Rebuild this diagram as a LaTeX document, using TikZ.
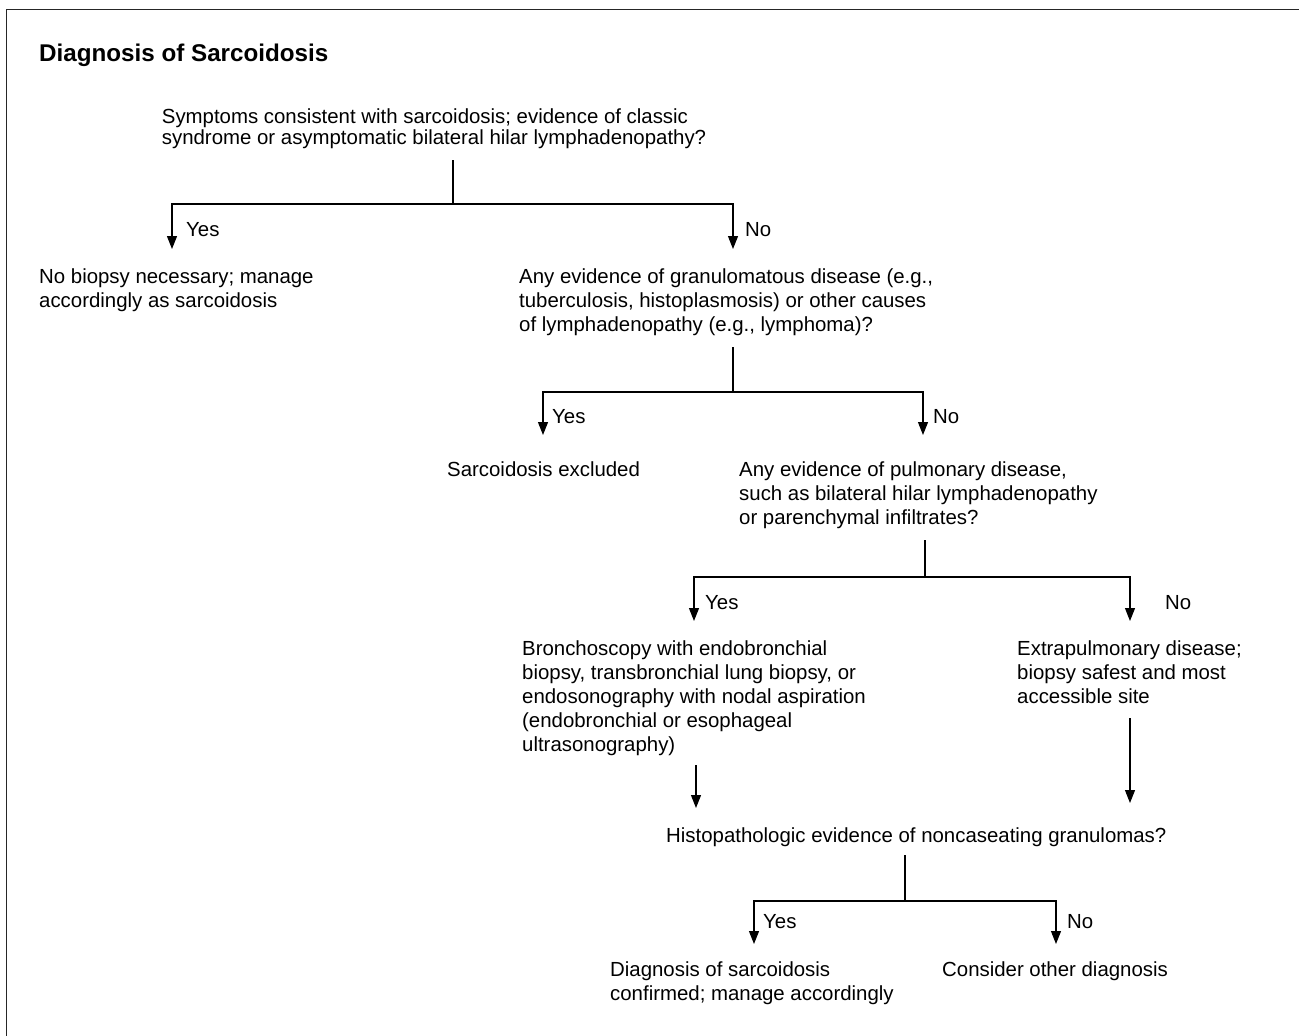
\documentclass[tikz,border=0pt]{standalone}
\usepackage{fontspec}
\setmainfont{Liberation Sans}
\usetikzlibrary{arrows.meta}
\begin{document}
\begin{tikzpicture}[x=1pt,y=-1pt,
  txt/.style={anchor=base west, inner sep=0pt, align=left, font=\fontsize{20.4}{24}\selectfont},
  tight/.style={font=\fontsize{20.4}{21}\selectfont},
  lbl/.style={anchor=base west, inner sep=0pt, font=\fontsize{20.4}{24}\selectfont},
  conn/.style={line width=1.1pt, black},
  arr/.style={conn, -{Triangle[length=13pt,width=10pt]}},
  frame/.style={line width=1.6pt, black!85}]
\useasboundingbox (0,0) rectangle (1299,1036);
% frame
\draw[frame] (6.5,1036) -- (6.5,9.5) -- (1299,9.5);
% title
\node[anchor=base west, inner sep=0pt, font=\fontsize{24.2}{29}\selectfont\bfseries] (title) at (39,61) {Diagnosis of Sarcoidosis};
% text nodes (anchor = baseline of the last line)
\node[txt, tight] (q1) at (161.7,144.3) {Symptoms consistent with sarcoidosis; evidence of classic\\syndrome or asymptomatic bilateral hilar lymphadenopathy?};
\node[txt] (nobiopsy) at (39,307.5) {No biopsy necessary; manage\\accordingly as sarcoidosis};
\node[txt] (q3) at (519,331.5) {Any evidence of granulomatous disease (e.g.,\\tuberculosis, histoplasmosis) or other causes\\of lymphadenopathy (e.g., lymphoma)?};
\node[txt] (excl) at (447,476.7) {Sarcoidosis excluded};
\node[txt] (q5) at (739,524.5) {Any evidence of pulmonary disease,\\such as bilateral hilar lymphadenopathy\\or parenchymal infiltrates?};
\node[txt] (bronch) at (522,751) {Bronchoscopy with endobronchial\\biopsy, transbronchial lung biopsy, or\\endosonography with nodal aspiration\\(endobronchial or esophageal\\ultrasonography)};
\node[txt] (extrap) at (1017,703) {Extrapulmonary disease;\\biopsy safest and most\\accessible site};
\node[txt] (hist) at (666,842) {Histopathologic evidence of noncaseating granulomas?};
\node[txt] (diag) at (610,1000.3) {Diagnosis of sarcoidosis\\confirmed; manage accordingly};
\node[txt] (consider) at (942,976.3) {Consider other diagnosis};
% labels
\node[lbl] (yes1) at (186,236) {Yes};
\node[lbl] (no1) at (745,236) {No};
\node[lbl] (yes2) at (552,423) {Yes};
\node[lbl] (no2) at (933,423) {No};
\node[lbl] (yes3) at (705,609.3) {Yes};
\node[lbl] (no3) at (1165,609.3) {No};
\node[lbl] (yes4) at (763,928) {Yes};
\node[lbl] (no4) at (1067,928) {No};
% branch coordinates
\coordinate (q1out) at (453,160);
\coordinate (s1) at (453,204);
\coordinate (t1a) at (172,249);
\coordinate (t1b) at (733,249);
\coordinate (q3out) at (733,347);
\coordinate (s2) at (733,392);
\coordinate (t2a) at (543,435);
\coordinate (t2b) at (923,435);
\coordinate (q5out) at (925,540);
\coordinate (s3) at (925,577);
\coordinate (t3a) at (694,621);
\coordinate (t3b) at (1130,621);
\coordinate (bout) at (696,765);
\coordinate (bin) at (696,808);
\coordinate (eout) at (1130,718);
\coordinate (ein) at (1130,803);
\coordinate (hout) at (905,855);
\coordinate (s4) at (905,901);
\coordinate (t4a) at (754,944);
\coordinate (t4b) at (1056,944);
% connectors
\draw[conn] (q1out) -- (s1);
\draw[arr] (s1) -| (t1a);
\draw[arr] (s1) -| (t1b);
\draw[conn] (q3out) -- (s2);
\draw[arr] (s2) -| (t2a);
\draw[arr] (s2) -| (t2b);
\draw[conn] (q5out) -- (s3);
\draw[arr] (s3) -| (t3a);
\draw[arr] (s3) -| (t3b);
\draw[arr] (bout) -- (bin);
\draw[arr] (eout) -- (ein);
\draw[conn] (hout) -- (s4);
\draw[arr] (s4) -| (t4a);
\draw[arr] (s4) -| (t4b);
\end{tikzpicture}
\end{document}
